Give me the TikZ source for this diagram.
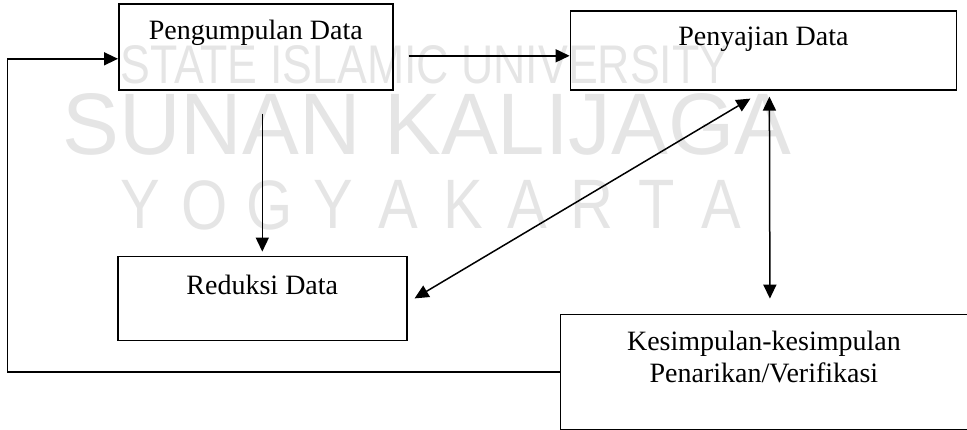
\documentclass[tikz,border=0pt]{standalone}
\usepackage{fontspec}
\setmainfont{Liberation Serif}
\newfontfamily\wmfont{Liberation Sans}
\usepackage{graphicx}
\usetikzlibrary{arrows.meta, positioning, calc}
\tikzstyle{kotak} = [rectangle, draw=black, line width=0.8pt, inner sep=0pt, text centered, font=\fontsize{14}{16}\selectfont]
\tikzstyle{panah} = [line width=0.75pt, -{Triangle[length=7pt,width=6.5pt]}]
\tikzstyle{panahdua} = [line width=0.75pt, {Triangle[length=7pt,width=6.5pt]}-{Triangle[length=7pt,width=6.5pt]}]
\tikzstyle{tandaair} = [text=black!10, inner sep=0pt, font=\wmfont]

\begin{document}
\begin{tikzpicture}
                    \useasboundingbox (0,0) rectangle (483.5pt,-214.5pt);
                    \node (wm1) [tandaair, anchor=north west] at (60pt,-22.5pt) {\resizebox{304.5pt}{19pt}{STATE ISLAMIC UNIVERSITY}};
                    \node (wm2) [tandaair, anchor=north west] at (31pt,-46.5pt) {\resizebox{364.5pt}{30.5pt}{SUNAN KALIJAGA}};
                    \foreach \h [count=\i] in {Y,O,G,Y,A,K,A,R,T,A}
                        \node (yk\i) [tandaair, anchor=north, font=\wmfont\fontsize{35}{35}\selectfont] at ({70pt+(\i-1)*32.3pt},-90pt) {\scalebox{0.85}[1]{\h}};

                    \node (kumpul) [kotak, minimum width=137pt, text height=18pt, text depth=25pt, anchor=north west] at (59pt,-1.5pt) {Pengumpulan Data};
                    \node (saji) [kotak, minimum width=193pt, text height=17.5pt, text depth=22pt, right=88pt of kumpul.north east, anchor=north west, yshift=-3.5pt] {Penyajian Data};
                    \node (reduksi) [kotak, minimum width=144.5pt, text height=19pt, text depth=23pt, below=82.5pt of kumpul.south west, anchor=north west, xshift=-0.5pt] {Reduksi Data};
                    \node (simpul) [kotak, text width=203.5pt, text height=18pt, text depth=39.5pt, below=111.5pt of saji.south west, anchor=north west, xshift=-5pt] {Kesimpulan-kesimpulan\\Penarikan/Verifikasi};

                    \coordinate (a1) at ([xshift=7.5pt,yshift=-4.5pt]kumpul.east);
                    \coordinate (a2) at ([yshift=-6pt]kumpul.west);
                    \coordinate (a3) at ($(reduksi.north)+(0,71pt)$);

                    \draw [panah] (a1) -- (a1 -| saji.west);
                    \draw [panah] (simpul.west) -- ++(-276pt,0) |- (a2);
                    \draw [panah, shorten >=2pt] (a3) -- (reduksi.north);
                    \draw [panahdua] ([xshift=3.5pt]reduksi.east) -- ([shift={(-6.5pt,-4pt)}]saji.south);
                    \draw [panahdua] ([shift={(3pt,-3pt)}]saji.south) -- ([shift={(3pt,7.5pt)}]simpul.north);
                \end{tikzpicture}
\end{document}
